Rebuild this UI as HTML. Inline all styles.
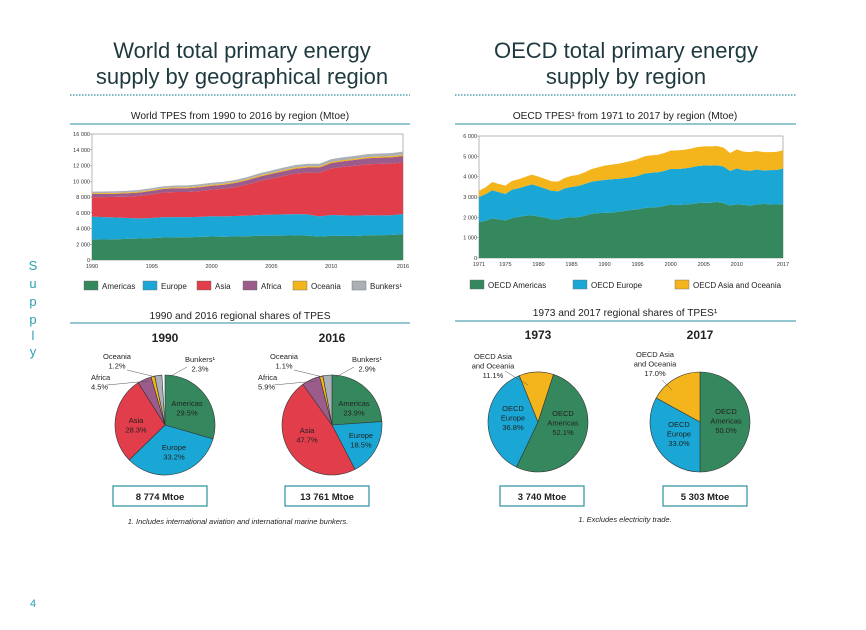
<!DOCTYPE html>
<html><head><meta charset="utf-8"><style>
html,body{margin:0;padding:0;background:#fff;width:866px;height:630px;overflow:hidden}
svg{display:block}
.t{font-family:"Liberation Sans",sans-serif}
.n{font-family:"Liberation Sans Narrow","Liberation Sans",sans-serif}
</style></head><body>
<svg id="s" width="866" height="630" viewBox="0 0 866 630" xmlns="http://www.w3.org/2000/svg">
<g class="t" fill="#1f3a3f" font-size="22" text-anchor="middle">
<text x="242" y="58">World total primary energy</text>
<text x="242" y="84">supply by geographical region</text>
<text x="626" y="58">OECD total primary energy</text>
<text x="626" y="84">supply by region</text>
</g>
<line x1="70" y1="95" x2="410" y2="95" stroke="#2a8f9f" stroke-width="1.3" stroke-dasharray="1.5 1.5"/>
<line x1="455" y1="95" x2="796" y2="95" stroke="#2a8f9f" stroke-width="1.3" stroke-dasharray="1.5 1.5"/>
<g class="n" font-size="10.2" fill="#222" text-anchor="middle">
<text x="240" y="119">World TPES from 1990 to 2016 by region (Mtoe)</text>
<text x="625" y="119">OECD TPES¹ from 1971 to 2017 by region (Mtoe)</text>
<text x="240" y="319">1990 and 2016 regional shares of TPES</text>
<text x="625" y="316">1973 and 2017 regional shares of TPES¹</text>
</g>
<line x1="70" y1="124" x2="410" y2="124" stroke="#2a8f9f"/>
<line x1="455" y1="124" x2="796" y2="124" stroke="#2a8f9f"/>
<line x1="70" y1="323" x2="410" y2="323" stroke="#2a8f9f"/>
<line x1="455" y1="321" x2="796" y2="321" stroke="#2a8f9f"/>
<g class="t" fill="#2aa0b0" font-size="13" text-anchor="middle">
<text x="33" y="270">S</text><text x="33" y="288">u</text><text x="33" y="306">p</text><text x="33" y="324">p</text><text x="33" y="340">l</text><text x="33" y="356">y</text>
</g>
<text x="30" y="607" class="t" font-size="11" fill="#2aa0b0">4</text>
<g id="world"></g>
<g id="oecd"></g>
<g id="pies"></g>
<g class="n" font-size="7.5" fill="#222" font-style="italic" text-anchor="middle">
<text x="238" y="524">1. Includes international aviation and international marine bunkers.</text>
<text x="625" y="522">1. Excludes electricity trade.</text>
</g>
</svg>
<script>
// World TPES 1990-2016 (Mtoe)
const worldYears=[1990,1991,1992,1993,1994,1995,1996,1997,1998,1999,2000,2001,2002,2003,2004,2005,2006,2007,2008,2009,2010,2011,2012,2013,2014,2015,2016];
const wAmericas=[2590,2600,2640,2680,2730,2780,2850,2880,2890,2930,2990,2960,3000,3010,3080,3100,3090,3120,3100,2980,3070,3070,3050,3120,3160,3180,3290];
const wEurope=[2913,2850,2750,2650,2560,2560,2600,2560,2560,2540,2560,2580,2580,2620,2640,2660,2700,2700,2700,2560,2650,2600,2580,2560,2500,2500,2546];
const wAsia=[2483,2540,2620,2720,2850,3000,3120,3200,3180,3280,3380,3500,3680,3960,4300,4580,4880,5160,5300,5550,5900,6150,6340,6480,6550,6560,6564];
const wAfrica=[395,405,410,420,430,445,455,470,480,490,500,515,530,550,570,590,605,620,640,660,690,715,740,760,780,795,812];
const wOceania=[105,106,108,110,112,115,118,120,122,124,126,128,130,132,135,137,138,140,142,143,144,146,147,148,149,150,151];
const wBunkers=[202,205,205,210,215,222,230,238,245,252,260,255,262,270,285,300,315,330,335,325,350,360,365,370,380,390,399];
const worldYTicks=[0,2000,4000,6000,8000,10000,12000,14000,16000];
const worldXTicks=[1990,1995,2000,2005,2010,2016];
// OECD TPES 1971-2017 (Mtoe)
const oecdYears=[];for(let y=1971;y<=2017;y++)oecdYears.push(y);
const oAmericas=[1760,1840,1949,1900,1850,1960,2020,2080,2100,2040,1990,1900,1890,1980,2000,2010,2080,2170,2210,2220,2230,2270,2310,2360,2390,2450,2490,2500,2560,2630,2600,2630,2650,2700,2720,2710,2760,2700,2580,2640,2620,2570,2630,2660,2640,2630,2651];
const oEurope=[1240,1300,1376,1340,1300,1400,1410,1450,1520,1480,1430,1400,1390,1450,1500,1530,1560,1580,1590,1620,1640,1620,1620,1610,1640,1700,1700,1720,1720,1750,1780,1770,1800,1820,1830,1830,1800,1800,1700,1770,1700,1720,1720,1650,1680,1700,1750];
const oAsiaOceania=[300,340,415,400,410,430,440,460,480,480,470,470,480,510,540,550,580,620,660,700,720,740,770,800,830,850,860,850,880,900,910,920,920,930,940,950,950,930,880,930,910,920,910,900,890,890,901];
const oecdYTicks=[0,1000,2000,3000,4000,5000,6000];
const oecdXTicks=[1971,1975,1980,1985,1990,1995,2000,2005,2010,2017];
// Pie shares (%)
const pieWorldLabels=["Americas","Europe","Asia","Africa","Oceania","Bunkers"];
const pie1990=[29.5,33.2,28.3,4.5,1.2,2.3];
const pie2016=[23.9,18.5,47.7,5.9,1.1,2.9];
const pieOecdLabels=["OECD Americas","OECD Europe","OECD Asia and Oceania"];
const pie1973=[52.1,36.8,11.1];
const pie2017=[50.0,33.0,17.0];
const totals=["8 774 Mtoe","13 761 Mtoe","3 740 Mtoe","5 303 Mtoe"];

const NS="http://www.w3.org/2000/svg";
const C={am:"#35885d",eu:"#1aa7d6",as:"#e13d4a",af:"#9b5c8b",oc:"#f4b41c",bu:"#aab0b6"};
function mk(p,tag,at,txt){const e=document.createElementNS(NS,tag);for(const k in at)e.setAttribute(k,at[k]);if(txt!=null)e.textContent=txt;p.appendChild(e);return e;}

function area(g,o){
  const sx=v=>o.x0+(v-o.xs[0])/(o.xs[o.xs.length-1]-o.xs[0])*(o.x1-o.x0);
  const sy=v=>o.y0-(v/o.ymax)*(o.y0-o.y1);
  mk(g,"rect",{x:o.x0,y:o.y1,width:o.x1-o.x0,height:o.y0-o.y1,fill:"#fff",stroke:"#888","stroke-width":0.6});
  let base=o.xs.map(()=>0);
  o.series.forEach((s,i)=>{
    const top=base.map((b,j)=>b+s[j]);
    let d="M"+o.xs.map((x,j)=>sx(x)+","+sy(top[j])).join("L");
    for(let j=o.xs.length-1;j>=0;j--)d+="L"+sx(o.xs[j])+","+sy(base[j]);
    const p=mk(g,"path",{d:d+"Z",fill:o.colors[i]});
    
    
    base=top;
  });
  o.yt.forEach(v=>{
    const t=mk(g,"text",{x:o.x0-2,y:sy(v)+2,"font-size":5.5,"text-anchor":"end",fill:"#333",class:"n"},v===0?"0":(v/1000)+" 000");
    
    
    mk(g,"line",{x1:o.x0-2,x2:o.x0,y1:sy(v),y2:sy(v),stroke:"#888","stroke-width":0.5});
  });
  o.xt.forEach(v=>{
    const t=mk(g,"text",{x:sx(v),y:o.y0+8,"font-size":5.5,"text-anchor":"middle",fill:"#333",class:"n"},v);
    
    
  });
  o.legend.forEach((L,i)=>{
    const lg=mk(g,"g",{});
    
    
    mk(lg,"rect",{x:L[0],y:o.ly-5,width:14,height:9,fill:o.colors[i],stroke:"#666","stroke-width":0.4});
    mk(lg,"text",{x:L[0]+18,y:o.ly+3,"font-size":8,fill:"#222",class:"n"},L[1]);
  });
}
area(document.getElementById("world"),{x0:92,x1:403,y0:260,y1:134,ymax:16000,xs:worldYears,
  series:[wAmericas,wEurope,wAsia,wAfrica,wOceania,wBunkers],colors:[C.am,C.eu,C.as,C.af,C.oc,C.bu],
  names:["americas","europe","asia","africa","oceania","bunkers"],yt:worldYTicks,xt:worldXTicks,ly:286,
  legend:[[84,"Americas"],[143,"Europe"],[197,"Asia"],[243,"Africa"],[293,"Oceania"],[352,"Bunkers¹"]]});
area(document.getElementById("oecd"),{x0:479,x1:783,y0:258,y1:136,ymax:6000,xs:oecdYears,
  series:[oAmericas,oEurope,oAsiaOceania],colors:[C.am,C.eu,C.oc],
  names:["oecd-americas","oecd-europe","oecd-asia-oceania"],yt:oecdYTicks,xt:oecdXTicks,ly:285,
  legend:[[470,"OECD Americas"],[573,"OECD Europe"],[675,"OECD Asia and Oceania"]]});

function pie(g,cx,cy,r,vals,cols,name,start){
  let a=start*Math.PI/180;
  vals.forEach((v,i)=>{
    const b=a+v/100*2*Math.PI;
    const x1=cx+r*Math.sin(a),y1=cy-r*Math.cos(a),x2=cx+r*Math.sin(b),y2=cy-r*Math.cos(b);
    const p=mk(g,"path",{d:`M${cx},${cy}L${x1},${y1}A${r},${r} 0 ${b-a>Math.PI?1:0} 1 ${x2},${y2}Z`,fill:cols[i],stroke:"#333","stroke-width":0.6});
    
    
    a=b;
  });
}
const pg=document.getElementById("pies");
const wc=[C.am,C.eu,C.as,C.af,C.oc,C.bu], oc=[C.am,C.eu,C.oc];
pie(pg,165,425,50,pie1990,wc,"pie-1990",0);
pie(pg,332,425,50,pie2016,wc,"pie-2016",0);
pie(pg,538,422,50,pie1973,oc,"pie-1973",18);
pie(pg,700,422,50,pie2017,oc,"pie-2017",0);
function txt(x,y,lines,anchor,size,bold,name){
  const t=mk(pg,"text",{x:x,y:y,"font-size":size||7.5,"text-anchor":anchor||"middle",fill:"#222",class:"n","font-weight":bold?"bold":"normal"});
  
  
  lines.forEach((l,i)=>mk(t,"tspan",{x:x,dy:i?9.5:0},l));
}
const f=v=>v.toFixed(1)+"%";
[["1990",165,pie1990],["2016",332,pie2016]].forEach(([yr,cx,d])=>{
  txt(cx,342,[yr],"middle",12,true,"pie-year-"+yr);
  txt(cx-48,359,["Oceania",f(d[4])],"middle",7.5,false,"oceania-label");
  txt(cx-74,380,["Africa",f(d[3])],"start",7.5,false,"africa-label");
  txt(cx+35,362,["Bunkers¹",f(d[5])],"middle",7.5,false,"bunkers-label");
  mk(pg,"polyline",{points:`${cx-38},${370} ${cx-9},${377}`,fill:"none",stroke:"#555","stroke-width":0.5});
  mk(pg,"polyline",{points:`${cx-58},${385} ${cx-16},${381}`,fill:"none",stroke:"#555","stroke-width":0.5});
  mk(pg,"polyline",{points:`${cx+22},${367} ${cx+4},${377}`,fill:"none",stroke:"#555","stroke-width":0.5});
});
txt(187,406,["Americas",f(pie1990[0])],"middle",7.5,false,"americas-label");
txt(136,423,["Asia",f(pie1990[2])],"middle",7.5,false,"asia-label");
txt(174,450,["Europe",f(pie1990[1])],"middle",7.5,false,"europe-label");
txt(354,406,["Americas",f(pie2016[0])],"middle",7.5,false,"americas-label");
txt(307,433,["Asia",f(pie2016[2])],"middle",7.5,false,"asia-label");
txt(361,438,["Europe",f(pie2016[1])],"middle",7.5,false,"europe-label");
txt(538,339,["1973"],"middle",12,true,"pie-year-1973");
txt(700,339,["2017"],"middle",12,true,"pie-year-2017");
txt(493,359,["OECD Asia","and Oceania",f(pie1973[2])],"middle",7.5,false,"asia-oceania-label");
mk(pg,"line",{x1:505,y1:371,x2:528,y2:385,stroke:"#555","stroke-width":0.5});
txt(513,411,["OECD","Europe",f(pie1973[1])],"middle",7.5,false,"europe-label");
txt(563,416,["OECD","Americas",f(pie1973[0])],"middle",7.5,false,"americas-label");
txt(655,357,["OECD Asia","and Oceania",f(pie2017[2])],"middle",7.5,false,"asia-oceania-label");
mk(pg,"line",{x1:662,y1:380,x2:672,y2:390,stroke:"#555","stroke-width":0.5});
txt(679,427,["OECD","Europe",f(pie2017[1])],"middle",7.5,false,"europe-label");
txt(726,414,["OECD","Americas",f(pie2017[0])],"middle",7.5,false,"americas-label");
[[113,94],[285,84],[500,84],[663,84]].forEach(([x,w],i)=>{
  const r=mk(pg,"rect",{x:x,y:486,width:w,height:20,fill:"#fff",stroke:"#2a8f9f","stroke-width":1.2});
  
  
  txt(x+w/2,500,[totals[i]],"middle",9.5,true,"total-label");
});
</script>
</body></html>
